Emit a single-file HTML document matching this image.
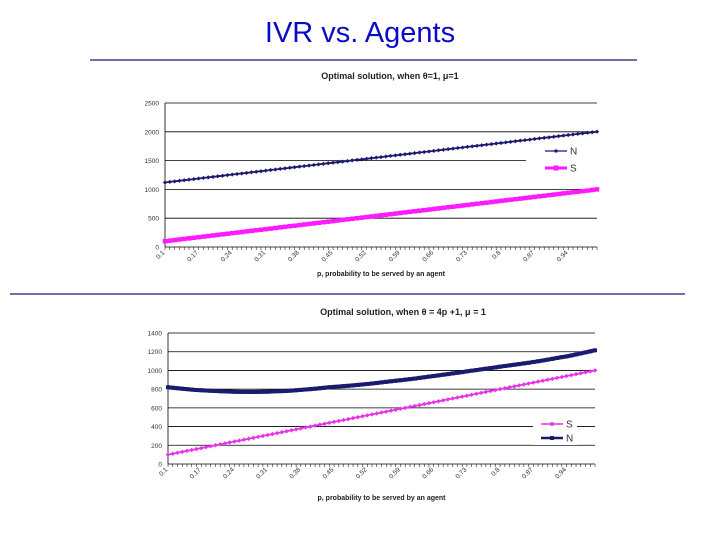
<!DOCTYPE html>
<html><head><meta charset="utf-8"><style>
html,body{margin:0;padding:0;background:#fff;}
svg{display:block;font-family:"Liberation Sans",Arial,sans-serif;}
</style></head><body>
<svg id="s" width="720" height="540">
<text x="360" y="42" text-anchor="middle" font-size="29" fill="#0a0ac8">IVR vs. Agents</text>
<line x1="90" y1="60" x2="637" y2="60" stroke="#1a1a6e" stroke-width="1.3"/>
<line x1="10" y1="294" x2="685" y2="294" stroke="#1a1a6e" stroke-width="1.3"/>
<g id="c1"></g>
<g id="c2"></g>
</svg>
<script>
const pValues = [];
for (let i = 0; i <= 90; i++) pValues.push(+(0.1 + i * 0.01).toFixed(2));
const tickLabels = ["0.1","0.17","0.24","0.31","0.38","0.45","0.52","0.59","0.66","0.73","0.8","0.87","0.94"];
const chart1Ticks = [0,500,1000,1500,2000,2500];
const chart1N = [1120,1130,1140,1150,1160,1169,1179,1189,1199,1209,1218,1228,1238,1248,1258,1267,1277,1287,1297,1307,1316,1326,1336,1346,1356,1365,1375,1385,1395,1405,1414,1424,1434,1444,1454,1463,1473,1483,1493,1503,1512,1522,1532,1542,1552,1561,1571,1581,1591,1601,1610,1620,1630,1640,1650,1659,1669,1679,1689,1699,1708,1718,1728,1738,1748,1757,1767,1777,1787,1797,1806,1816,1826,1836,1846,1855,1865,1875,1885,1895,1904,1914,1924,1934,1944,1953,1963,1973,1983,1993,2002];
const chart1S = [100,110,120,130,140,150,160,170,180,190,200,210,220,230,240,250,260,270,280,290,300,310,320,330,340,350,360,370,380,390,400,410,420,430,440,450,460,470,480,490,500,510,520,530,540,550,560,570,580,590,600,610,620,630,640,650,660,670,680,690,700,710,720,730,740,750,760,770,780,790,800,810,820,830,840,850,860,870,880,890,900,910,920,930,940,950,960,970,980,990,1000];
const chart2Ticks = [0,200,400,600,800,1000,1200,1400];
const chart2S = chart1S.slice();
const chart2N = [820,815,810,805,800,795,791,788,785,782,780,778,776,774,772,771,770,770,770,771,772,773,775,777,779,781,784,788,792,796,800,805,810,815,820,824,828,832,836,840,845,850,855,860,866,872,878,884,890,895,901,907,913,920,927,934,940,947,954,961,968,975,982,990,997,1004,1011,1018,1025,1032,1040,1047,1054,1061,1068,1075,1082,1090,1098,1106,1115,1124,1133,1142,1150,1160,1171,1182,1193,1204,1215];

const NS="http://www.w3.org/2000/svg";
function mk(parent,tag,attrs){const e=document.createElementNS(NS,tag);for(const k in attrs)e.setAttribute(k,attrs[k]);parent.appendChild(e);return e;}

function drawChart(g,cfg){
  const {x0,x1,y0,yTop,ymax,ticks,title,titleX,titleY,axisTitleY,series,legend}=cfg;
  const n=pValues.length;
  const xs=i=>x0+i*(x1-x0)/(n-1);
  const ys=v=>y0-(v/ymax)*(y0-yTop);
  const t=mk(g,'text',{x:titleX,y:titleY,'text-anchor':'middle','font-size':'9','font-weight':'bold',fill:'#222'});
  t.textContent=title;
  
  
  ticks.forEach(v=>{
    const y=ys(v);
    if(v>0){
      const ln=mk(g,'line',{x1:x0,y1:y,x2:(cfg.shortGrid&&cfg.shortGrid[v])||x1,y2:y,stroke:'#000','stroke-width':'0.8'});
      
      
    }
    const lb=mk(g,'text',{x:x0-6,y:y+2.5,'text-anchor':'end','font-size':'6.5',fill:'#333'});
    lb.textContent=v;
    
    
  });
  mk(g,'line',{x1:x0,y1:yTop,x2:x0,y2:y0,stroke:'#000','stroke-width':'0.8'});
  const xa=mk(g,'line',{x1:x0,y1:y0,x2:x1,y2:y0,stroke:'#000','stroke-width':'0.8'});
  
  
  for(let i=0;i<n;i++) mk(g,'line',{x1:xs(i),y1:y0,x2:xs(i),y2:y0+3,stroke:'#000','stroke-width':'0.5'});
  tickLabels.forEach((lab,k)=>{
    const i=pValues.indexOf(+lab);
    const x=xs(i), y=y0+6;
    const tl=mk(g,'text',{x:x,y:y,'text-anchor':'end','font-size':'6.5',fill:'#333',transform:`rotate(-45 ${x} ${y})`});
    tl.textContent=lab;
    
    
  });
  const at=mk(g,'text',{x:(x0+x1)/2,y:axisTitleY,'text-anchor':'middle','font-size':'7','font-weight':'bold',fill:'#222'});
  at.textContent='p, probability to be served by an agent';
  
  
  series.forEach(s=>{
    const pts=s.data.map((v,i)=>xs(i).toFixed(1)+','+ys(v).toFixed(1)).join(' ');
    const pl=mk(g,'polyline',{points:pts,fill:'none',stroke:s.color,'stroke-width':s.width});
    
    
    s.data.forEach((v,i)=>{
      const m=mk(g,'rect',{x:xs(i)-s.ms/2,y:ys(v)-s.ms/2,width:s.ms,height:s.ms,fill:s.color,transform:s.diamond?`rotate(45 ${xs(i)} ${ys(v)})`:''});
      
      
    });
  });
  legend.forEach(l=>{
    const lg=mk(g,'g',{});
    
    
    if(l.bg) mk(lg,'rect',{x:l.x-8,y:l.y-7,width:44,height:14,fill:'#fff'});
    mk(lg,'line',{x1:l.x,y1:l.y,x2:l.x+22,y2:l.y,stroke:l.color,'stroke-width':l.width});
    mk(lg,'rect',{x:l.x+11-l.ms/2,y:l.y-l.ms/2,width:l.ms,height:l.ms,fill:l.color});
    const tx=mk(lg,'text',{x:l.x+25,y:l.y+3.5,'font-size':'10',fill:'#333'});
    tx.textContent=l.name;
  });
}

drawChart(document.getElementById('c1'),{
  x0:165,x1:597,y0:247,yTop:103,ymax:2500,ticks:chart1Ticks,
  title:'Optimal solution, when \u03b8=1, \u03bc=1',titleX:390,titleY:79,axisTitleY:276,
  shortGrid:{1500:526},
  series:[{name:'S',data:chart1S,color:'#ff1aff',width:4,ms:4.5},{name:'N',data:chart1N,color:'#1a1a6e',width:1.8,ms:3,diamond:true}],
  legend:[{name:'N',x:545,y:151,color:'#1a1a6e',width:1.2,ms:3},{name:'S',x:545,y:168,color:'#ff1aff',width:3,ms:5}]
});
drawChart(document.getElementById('c2'),{
  x0:168,x1:595,y0:464,yTop:333,ymax:1400,ticks:chart2Ticks,
  title:'Optimal solution, when \u03b8 = 4p +1, \u03bc = 1',titleX:403,titleY:315,axisTitleY:500,
  series:[{name:'S',data:chart2S,color:'#e633e6',width:1.8,ms:3.2,diamond:true},{name:'N',data:chart2N,color:'#1a1a6e',width:4,ms:4}],
  legend:[{name:'S',x:541,y:424,color:'#e633e6',width:1.5,ms:3.5,bg:true},{name:'N',x:541,y:438,color:'#1a1a6e',width:2.5,ms:4,bg:true}]
});
</script>
</body></html>
